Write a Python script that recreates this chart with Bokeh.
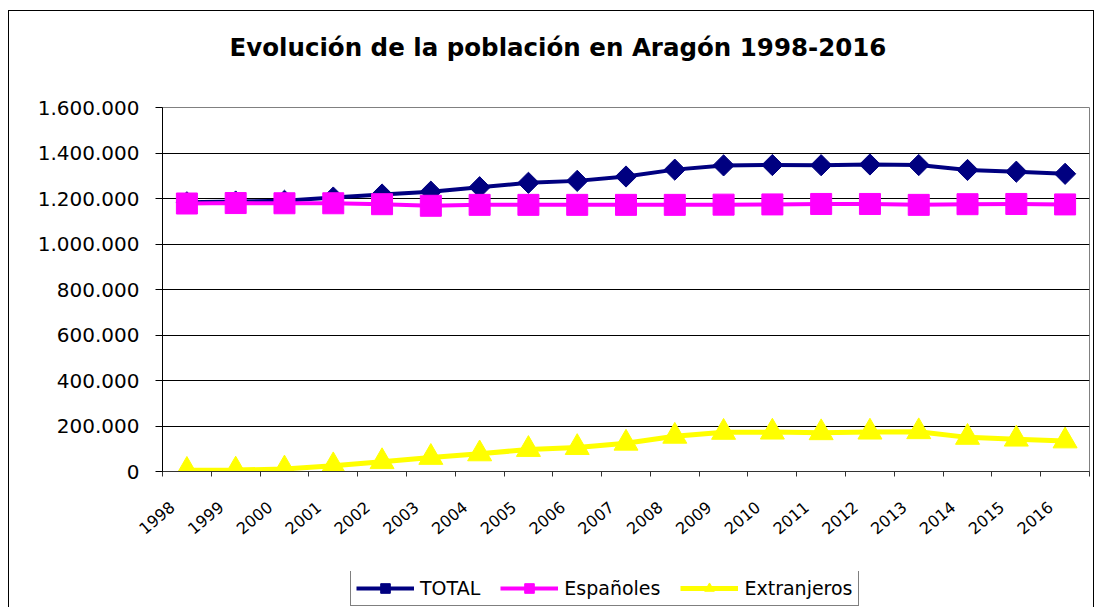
import numpy as np
from bokeh.plotting import figure
from bokeh.layouts import column
from bokeh.models import Range1d, FixedTicker, Legend, LegendItem, LinearAxis
from bokeh.embed import file_html
from bokeh.resources import INLINE

# ---------------- data ----------------
years = [str(y) for y in range(1998, 2017)]
total = [1183234, 1186849, 1189909, 1204215, 1217514, 1230090, 1249584, 1269027,
         1277471, 1296655, 1326918, 1345473, 1347095, 1346293, 1349467, 1347150,
         1325385, 1317847, 1308563]
espanoles = [1178000, 1180000, 1179000, 1179000, 1175000, 1168000, 1172000, 1172000,
             1172000, 1172000, 1172000, 1173000, 1174000, 1176000, 1176000, 1172000,
             1175000, 1176000, 1174000]
extranjeros = [5040, 6296, 11010, 25132, 43177, 61896, 77545, 96848, 105361, 124404,
               154892, 172138, 173086, 170393, 173111, 174793, 150045, 142203, 134317]
y_ticks = [0, 200000, 400000, 600000, 800000, 1000000, 1200000, 1400000, 1600000]
series_names = ["TOTAL", "Españoles", "Extranjeros"]
title_text = "Evolución de la población en Aragón 1998-2016"

# category positions (centre of each slot) and label anchors
x = [i + 0.5 for i in range(len(years))]
x_lab = [i + 0.2 for i in range(len(years))]
boundaries = list(range(len(years) + 1))

FONT = "DejaVu Sans"
NAVY = "#000080"
PINK = "#FF00FF"
YELLOW = "#FFFF00"
series_values = [total, espanoles, extranjeros]
series_styles = [dict(marker="square", size=15, angle=np.pi / 4, color=NAVY, lw=4),
                 dict(marker="square", size=21, angle=0.0, color=PINK, lw=4),
                 dict(marker="triangle", size=24, angle=0.0, color=YELLOW, lw=5)]

# ---------------- main chart ----------------
p = figure(width=1084, height=560, output_backend="svg", toolbar_location=None,
           x_range=Range1d(0, len(years)), y_range=Range1d(0, 1600000),
           min_border_left=153, min_border_right=4, min_border_top=96,
           min_border_bottom=100,
           background_fill_color="white", border_fill_color="white")

p.outline_line_color = "#808080"
p.outline_line_width = 1

p.title.text = title_text
p.title.align = "left"
p.title.offset = 67
p.title.standoff = 10
p.title.text_font = FONT
p.title.text_font_style = "bold"
p.title.text_font_size = "24.5px"
p.title.text_color = "black"

p.xgrid.visible = False
p.ygrid.grid_line_color = "black"
p.ygrid.grid_line_width = 1

ya = p.left[0]
ya.ticker = FixedTicker(ticks=y_ticks)
ya.major_label_overrides = {t: f"{t:,}".replace(",", ".") for t in y_ticks}
ya.major_label_text_font = FONT
ya.major_label_text_font_size = "20px"
ya.major_label_text_color = "black"
ya.major_tick_out = 7
ya.major_tick_in = 0
ya.minor_tick_line_color = None
ya.major_label_standoff = 16
ya.axis_line_color = "black"
ya.major_tick_line_color = "black"

xa = p.below[0]
xa.ticker = FixedTicker(ticks=x_lab, minor_ticks=boundaries)
xa.major_label_overrides = {xi: yr for xi, yr in zip(x_lab, years)}
xa.major_label_orientation = 0.7
xa.major_label_text_font = FONT
xa.major_label_text_font_size = "16px"
xa.major_label_text_color = "black"
xa.major_tick_line_color = None
xa.major_tick_out = 5
xa.major_tick_in = 0
xa.minor_tick_line_color = "#333333"
xa.minor_tick_out = 5
xa.minor_tick_in = 0
xa.major_label_standoff = 28
xa.axis_line_color = "#333333"

# invisible spacer between the title and the plot area
spacer = LinearAxis(ticker=FixedTicker(ticks=[x[0]]),
                    major_label_overrides={x[0]: ""},
                    major_label_text_font_size="1px", major_label_text_alpha=0,
                    axis_line_color=None, major_tick_out=41, major_tick_in=0,
                    minor_tick_out=0, minor_tick_in=0, major_tick_line_color=None,
                    minor_tick_line_color=None, major_label_standoff=0)
p.add_layout(spacer, "above")

for vals, st in zip(series_values, series_styles):
    p.line(x, vals, line_color=st["color"], line_width=st["lw"])
    p.scatter(x, vals, marker=st["marker"], size=st["size"], angle=st["angle"],
              fill_color=st["color"], line_color=st["color"])

# ---------------- legend strip ----------------
q = figure(width=1084, height=36, output_backend="svg", toolbar_location=None,
           x_range=Range1d(0, len(years)), y_range=Range1d(0, 1600000), min_border=0,
           x_axis_type=None, y_axis_type=None, title=None,
           background_fill_color="white", border_fill_color="white")
q.outline_line_color = None

items = []
for name, vals, st in zip(series_names, series_values, series_styles):
    ln = q.line(x, vals, line_color=st["color"], line_width=st["lw"], visible=False)
    mk = q.scatter(x, vals, marker=st["marker"], size=st["size"], angle=st["angle"],
                   fill_color=st["color"], line_color=st["color"], visible=False)
    items.append(LegendItem(label=name, renderers=[ln, mk]))

legend = Legend(items=items, location=(188, 1), orientation="horizontal",
                glyph_width=58, glyph_height=24, label_height=24,
                label_text_font=FONT, label_text_font_size="19px",
                label_text_color="black", label_standoff=6, spacing=20,
                padding=5, margin=0, border_line_color="black",
                border_line_width=1, background_fill_color="white",
                background_fill_alpha=1, inactive_fill_alpha=0)
q.add_layout(legend)

layout = column(p, q, spacing=0,
                styles={"border-left": "1px solid black",
                        "border-top": "1px solid black",
                        "border-right": "1px solid black",
                        "margin-top": "10px", "margin-left": "8px"})

open("out.html", "w").write(file_html(layout, INLINE))
